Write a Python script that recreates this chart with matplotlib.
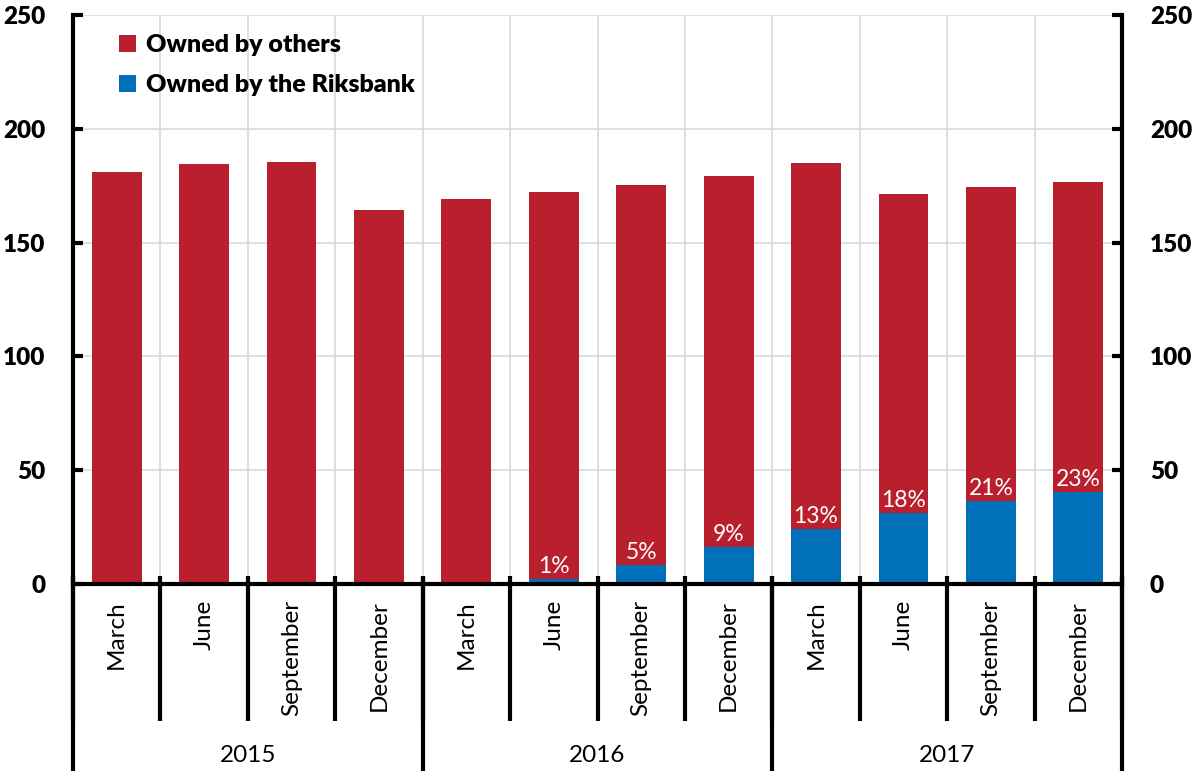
import matplotlib
matplotlib.use("Agg")
import matplotlib.pyplot as plt
import matplotlib.transforms as mtransforms
import numpy as np

plt.rcParams['font.family'] = ['Lato', 'DejaVu Sans']

months = ["March", "June", "September", "December"] * 3
years = ["2015", "2016", "2017"]
total = [181, 184.5, 185.3, 164.3, 169.2, 172.2, 175.3, 179.3, 185.0, 171.4, 174.4, 176.6]
riksbank = [0, 0, 0, 0, 0, 2.0, 8.5, 16.3, 24.2, 31.0, 36.5, 40.4]
pct_labels = ["", "", "", "", "", "1%", "5%", "9%", "13%", "18%", "21%", "23%"]
others = [t - r for t, r in zip(total, riksbank)]

RED = "#BA1F2D"
BLUE = "#0070B8"

fig = plt.figure(figsize=(11.98, 7.71), dpi=100)
ax = fig.add_axes([73/1198, 1 - 584/771, (1122-73)/1198, (584-15)/771])

x = np.arange(len(total))
w = 0.57
ax.bar(x, riksbank, width=w, color=BLUE, label="Owned by the Riksbank", zorder=2)
ax.bar(x, others, width=w, bottom=riksbank, color=RED, label="Owned by others", zorder=2)

for xi, r, lab in zip(x, riksbank, pct_labels):
    if lab:
        ax.annotate(lab, (xi, r), xytext=(0, 1.5), textcoords="offset points",
                    ha="center", va="bottom", color="white", fontsize=16.5, zorder=3)

ax.set_xlim(-0.5, len(total) - 0.5)
ax.set_ylim(0, 250)
ax.set_yticks(range(0, 251, 50))

# grid
for yv in range(50, 251, 50):
    ax.axhline(yv, color="#D9D9D9", lw=1.2, zorder=0)
for b in np.arange(0.5, len(total) - 0.5, 1):
    ax.axvline(b, color="#D9D9D9", lw=1.2, zorder=0)

for s in ["left", "right", "bottom"]:
    ax.spines[s].set_linewidth(3)
    ax.spines[s].set_color("black")
ax.spines["top"].set_visible(False)

ax.tick_params(axis="y", which="both", direction="in", length=7, width=3,
               left=True, right=True, labelleft=True, labelright=True,
               labelsize=17.5, pad=20)
for lbl in ax.get_yticklabels():
    lbl.set_fontweight("heavy")
ax.tick_params(axis="x", bottom=False, labelbottom=False)

trans = mtransforms.blended_transform_factory(ax.transData, ax.transAxes)
# month separators
for b in np.arange(-0.5, len(total) + 0.5, 1):
    ax.plot([b, b], [0.014, -0.241], transform=trans, color="black", lw=3,
            clip_on=False, solid_capstyle="butt", zorder=5)
# year separators
for b in np.arange(-0.5, len(total) + 0.5, 4):
    ax.plot([b, b], [0.014, -0.33], transform=trans, color="black", lw=3,
            clip_on=False, solid_capstyle="butt", zorder=5)

for xi, m in zip(x, months):
    ax.text(xi, -0.028, m, transform=trans, rotation=90, ha="center", va="top",
            fontsize=17.5)
for i, yname in enumerate(years):
    ax.text(4 * i + 1.5, -0.302, yname, transform=trans, ha="center", va="center",
            fontsize=17.5)

handles, labels = ax.get_legend_handles_labels()
leg = ax.legend(handles[::-1], labels[::-1], loc="upper left",
                bbox_to_anchor=(0.022, 1.006), frameon=False,
                prop={"size": 18, "weight": "heavy"}, handlelength=0.7,
                handleheight=0.7, handletextpad=0.4, labelspacing=0.72)

fig.savefig("out.png", dpi=100)
